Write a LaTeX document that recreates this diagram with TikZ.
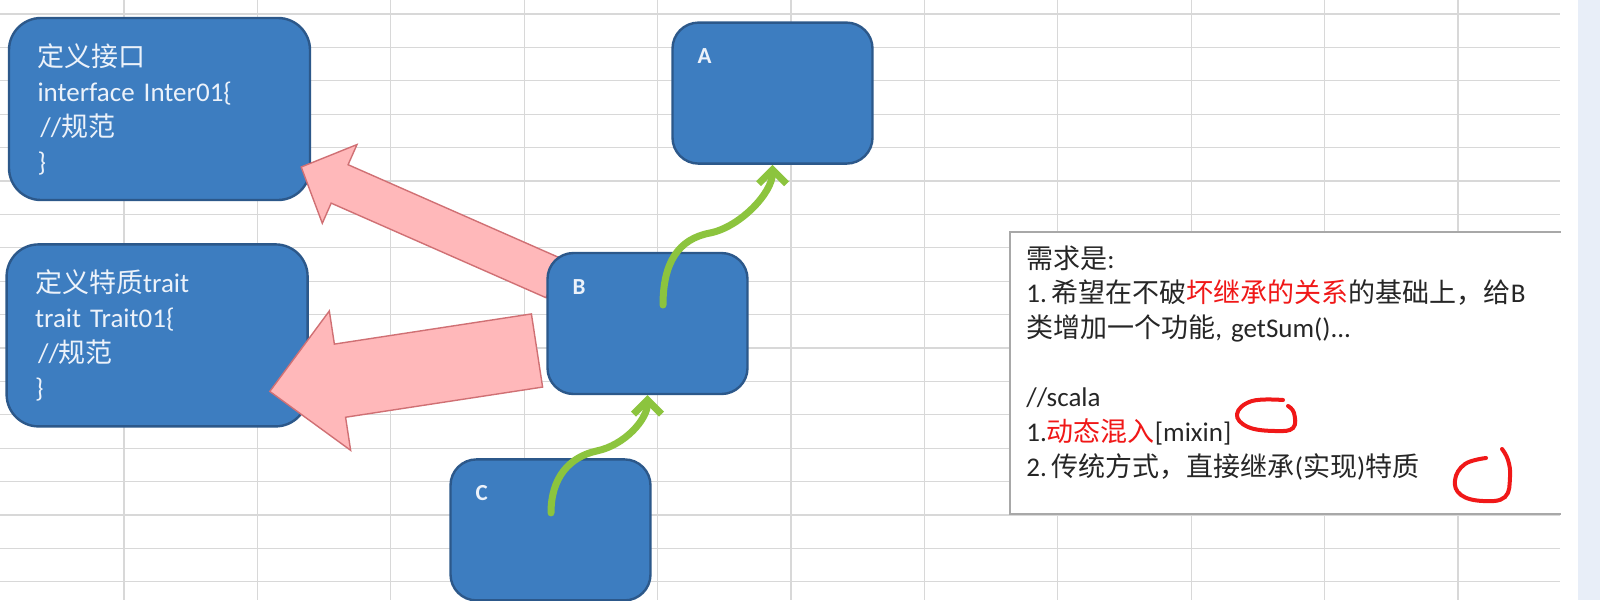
\documentclass[tikz,border=0pt]{standalone}
\usepackage{fontspec}
\setmainfont{Carlito}
\newfontfamily\cjk{Noto Sans CJK SC}
\usetikzlibrary{positioning,calc,arrows.meta}

\definecolor{boxblue}{RGB}{61,125,192}
\definecolor{boxline}{RGB}{44,88,138}
\definecolor{boxtext}{RGB}{236,242,250}
\definecolor{gridgray}{RGB}{216,216,216}
\definecolor{pinkfill}{RGB}{255,184,186}
\definecolor{pinkline}{RGB}{208,112,116}
\definecolor{leafgreen}{RGB}{140,196,62}
\definecolor{markred}{RGB}{240,24,24}
\definecolor{notetext}{RGB}{38,38,38}
\definecolor{noteline}{RGB}{168,168,168}
\definecolor{panelblue}{RGB}{232,238,248}

% block arrow: name, tail, tip, half shaft, half head, head length
\newcommand{\blockarrow}[6]{%
  \coordinate (#1h) at ($(#3)!#6!(#2)$);
  \path[pinkarrow] ($(#2)!#4!90:(#3)$) -- ($(#1h)!#4!90:(#3)$) -- ($(#1h)!#5!90:(#3)$) -- (#3)
    -- ($(#1h)!#5!-90:(#3)$) -- ($(#1h)!#4!-90:(#3)$) -- ($(#2)!#4!-90:(#3)$) -- cycle;}

\begin{document}
\begin{tikzpicture} [
    x=0.5pt, y=-0.5pt,
    gridline/.style={draw=gridgray, line width=0.6pt},
    bigbox/.style={rectangle, rounded corners=16pt, draw=boxline, line width=1.2pt, fill=boxblue, text=boxtext, minimum width=150.5pt, minimum height=91pt, text width=122pt, align=left, font=\fontsize{13.5}{17.5}\selectfont},
    smallbox/.style={rectangle, rounded corners=13pt, draw=boxline, line width=1.2pt, fill=boxblue, minimum width=100pt, minimum height=70.5pt},
    tag/.style={text=boxtext, font=\fontsize{11.5}{13}\selectfont\bfseries, inner sep=0pt},
    pinkarrow/.style={fill=pinkfill, draw=pinkline, line width=0.7pt},
    inherit/.style={draw=leafgreen, line width=3.5pt, line cap=round, -{Straight Barb[length=7pt,width=14pt]}},
    notebox/.style={rectangle, fill=white, minimum width=275pt, minimum height=140.5pt, inner sep=0pt},
    notefont/.style={text=notetext, font=\fontsize{13.5}{17.35}\selectfont, text width=265pt, align=left, inner sep=0pt},
    redmark/.style={draw=markred, line width=2pt, line cap=round, line join=round}
]
\useasboundingbox (0,0) rectangle (1600,600);
\fill[white] (0,0) rectangle (1600,600);

% Sheet grid
\foreach \r in {0,...,17}
  \draw[gridline] (0,{14+33.4*\r}) -- (1560,{14+33.4*\r});
\foreach \c in {0,...,10}
  \draw[gridline] ({124+133.4*\c},0) -- ({124+133.4*\c},600);
\fill[panelblue] (1578,0) rectangle (1600,600);

% Interface and trait
\node[bigbox] (iface) at (159.5,109) {{\cjk 定义接口}\\interface Inter01\{\\\hspace{1.5pt}//{\cjk 规范}\\\}};
\node[bigbox, below=21pt of iface, xshift=-1.2pt] (trait) {{\cjk 定义特质}trait\\trait Trait01\{\\\hspace{1.5pt}//{\cjk 规范}\\\}};

% Block arrows
\coordinate (tail1) at (554.5,278.5);
\coordinate (tail2) at (537,350.5);
\coordinate (tip1) at ($(iface.east)+(-10,58)$);
\coordinate (tip2) at ($(trait.east)+(-39,56)$);
\blockarrow{up}{tail1}{tip1}{10.5pt}{21.5pt}{21pt}
\blockarrow{low}{tail2}{tip2}{18.5pt}{35.25pt}{35.5pt}

% Classes
\node[smallbox] (B) at (647.5,323.5) {};
\node[smallbox, above=43.5pt of B, xshift=62.5pt] (A) {};
\node[smallbox, below=31.5pt of B, xshift=-48.5pt] (C) {};
\foreach \n in {A,B,C}
  \node[tag, anchor=west] (lab\n) at ($(\n.north west)+(26,35)$) {\n};

% Inheritance
\coordinate (bdot) at ($(B.center)+(15.5,-18.5)$);
\coordinate (cdot) at ($(C.center)+(0.5,-17)$);
\draw[inherit] (bdot) .. controls +(0,-42) and +(-32,6) .. ++(47,-72) .. controls +(30,-6) and +(0,28) .. (A.south);
\draw[inherit] (cdot) .. controls +(0,-35) and +(-28,6) .. ++(46,-62) .. controls +(28,-6) and +(0,24) .. (B.south);

% Note
\node[notebox, anchor=north west] (note) at (1010,232) {};
\draw[noteline, line width=1pt] (note.north east) -- (note.north west) -- (note.south west) -- (note.south east);
\node[notefont, anchor=base west] (needs) at ($(note.north west)+(16,36)$) {{\cjk 需求是}:\\
1.\hspace{2.5pt}{\cjk 希望在不破}\textcolor{markred}{\cjk 坏继承的关系}{\cjk 的基础上，给}B\\
{\cjk 类增加一个功能}, getSum()...\\[17.35pt]
//scala\\
1.\textcolor{markred}{\cjk 动态混入}[mixin]\\
2.\hspace{2.5pt}{\cjk 传统方式，直接继承}({\cjk 实现}){\cjk 特质}};

% Marks
\draw[redmark] plot[smooth, tension=0.7] coordinates {(1283,400) (1252,401) (1237,414) (1248,427) (1275,431) (1293,428) (1294,413) (1288,406)};
\draw[redmark] plot[smooth, tension=0.7] coordinates {(1486,458) (1465,464) (1455,480) (1461,495) (1483,501) (1505,497) (1510,477) (1508,460) (1502,449)};

\end{tikzpicture}
\end{document}
